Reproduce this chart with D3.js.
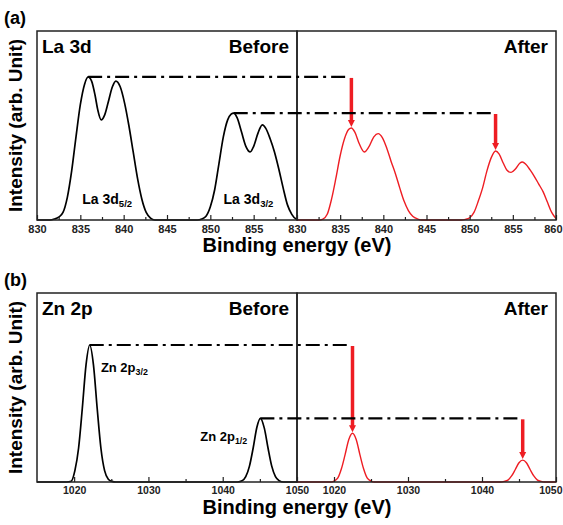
<!DOCTYPE html>
<html>
<head>
<meta charset="utf-8">
<script src="https://cdn.jsdelivr.net/npm/d3@7"></script>
<style>
  html, body { margin: 0; padding: 0; background: #fff; }
  svg { display: block; font-family: "Liberation Sans", Arial, sans-serif; font-weight: bold; }
</style>
</head>
<body>
<svg id="chart" width="563" height="525"></svg>
<script>
// ---------- DATA ----------
// Panel (a) La 3d : [binding energy (eV), intensity (arb.)]
const laBefore = [
  [830,0],[831.5,0],[832,0.5],[832.5,1.5],[833,4],[833.5,12],[834,26],[834.5,44],[835,61],[835.5,72],[835.9,75.7],
  [836.3,73.5],[836.7,66],[837.0,58.5],[837.4,53],[837.8,55.5],[838.2,62],[838.7,70.5],[839.1,73.5],[839.6,70.5],
  [840.1,62],[840.6,50],[841.1,36],[841.6,22],[842.1,11],[842.6,4],[843.1,1],[843.6,0],
  [848.5,0],[849,0.5],[849.5,2],[850,7],[850.5,16],[851,30],[851.5,44],[852,53],[852.4,56],[852.7,56.6],[853.1,54],
  [853.6,46.5],[854.1,39],[854.6,36],[855.0,39],[855.5,46],[856,50.3],[856.4,48.5],[856.9,43],[857.4,36],[857.9,27],
  [858.4,17],[858.9,8],[859.4,3],[859.9,0.5],[860,0.3]
];
const laAfter = [
  [830,0],[832.5,0],[833,0.5],[833.5,3],[834,11],[834.5,22],[835,34],[835.5,43],[836,48],[836.3,48.7],[836.7,46.5],
  [837.2,40.5],[837.8,36],[838.3,38.5],[838.9,44],[839.4,45.7],[839.9,43.5],[840.4,38],[840.9,31],[841.4,24.5],
  [841.9,17],[842.4,10],[842.9,5],[843.4,2],[844,0.5],[844.5,0],
  [849,0],[849.5,0.3],[850,1.2],[850.5,4],[851,10],[851.5,17],[852,26],[852.5,33],[853,36.5],[853.4,35],[853.9,30],
  [854.3,26.5],[854.8,25.2],[855.3,27],[855.8,30],[856.1,30.7],[856.5,29.5],[857,26.5],[857.5,23],[858,19],[858.5,15],
  [859,9.5],[859.5,4],[860,0.8]
];
// Panel (b) Zn 2p
const znBefore = [
  [1015,0],[1019,0],[1019.6,0.4],[1020.1,6],[1020.6,18],[1021.1,39],[1021.6,62],[1022.1,72.5],[1022.6,62],[1023.1,39],
  [1023.6,18],[1024.1,6],[1024.6,1.5],[1025.1,0.3],[1025.6,0],
  [1042,0],[1042.6,0.6],[1043.1,2.8],[1043.6,8.4],[1044.1,18],[1044.6,29],[1045.07,33.7],[1045.6,28.5],[1046.1,18],
  [1046.6,8.4],[1047.1,2.8],[1047.6,0.7],[1048.2,0],[1050,0]
];
const znAfter = [
  [1015,0],[1019.5,0],[1020,0.5],[1020.5,2],[1021,7],[1021.5,14.5],[1022,22.5],[1022.5,25.8],[1023,22.5],[1023.5,14.5],
  [1024,7],[1024.5,2],[1025,0.5],[1025.5,0],
  [1042.5,0],[1043,0.3],[1043.5,1],[1044,3.2],[1044.5,6.6],[1045,10.2],[1045.5,11.6],[1046,10.2],[1046.5,6.6],
  [1047,3.2],[1047.5,1],[1048,0.3],[1048.5,0],[1050,0]
];
// Peak positions used for the guide lines/arrows: [E before, I before, E after, I after]
const laShifts = [[835.9, 75.7, 836.3, 48.7], [852.7, 56.6, 853.0, 36.5]];
const znShifts = [[1022.1, 72.5, 1022.5, 25.8], [1045.07, 33.7, 1045.5, 11.6]];
// Axis ticks
const laDomain = [830, 860];
const znDomain = [1015, 1050];
const laMajorLeft = [830, 835, 840, 845, 850, 855];
const laMajorRight = [830, 835, 840, 845, 850, 855, 860];
const laMinor = [832.5, 837.5, 842.5, 847.5, 852.5, 857.5];
const znMajorLeft = [1020, 1030, 1040, 1050];
const znMajorRight = [1020, 1030, 1040, 1050];
const znMinor = [1025, 1035, 1045];

// ---------- LAYOUT ----------
const svg = d3.select("#chart");
const W = 563;
const X0 = 37, XM = 297, X1 = 556;
const RED = "#ee1d23";

function panel(cfg) {
  const xL = d3.scaleLinear().domain(cfg.domain).range([X0, XM]);
  const xR = d3.scaleLinear().domain(cfg.domain).range([XM, X1]);
  const y = d3.scaleLinear().domain([0, 100]).range([cfg.bottom, cfg.top]);
  const g = svg.append("g");

  const line = (xs) => d3.line().x(d => xs(d[0])).y(d => y(d[1])).curve(d3.curveMonotoneX);

  // curves
  g.append("path").datum(cfg.before).attr("d", line(xL))
    .attr("fill", "none").attr("stroke", "#000").attr("stroke-width", 1.7);
  g.append("path").datum(cfg.after).attr("d", line(xR))
    .attr("fill", "none").attr("stroke", RED).attr("stroke-width", 1.4);

  // axes (ticks inward)
  function axes(xs, major) {
    const a = g.append("g").attr("transform", `translate(0,${cfg.bottom})`)
      .call(d3.axisBottom(xs).tickValues(major).tickSize(-5).tickPadding(5).tickFormat(d3.format("d")));
    a.select(".domain").remove();
    a.selectAll("line").attr("stroke", "#222").attr("stroke-width", 1.2);
    a.selectAll("text").attr("font-size", cfg.tickFont).attr("font-weight", "bold")
      .attr("font-family", "Liberation Sans, Arial, sans-serif").attr("fill", "#222");
    // keep the last label inside the picture
    a.selectAll(".tick").each(function (d) {
      const txt = d3.select(this).select("text");
      const w = txt.node().getComputedTextLength();
      const cx = xs(d);
      if (cx + w / 2 > W - 1) txt.attr("text-anchor", "end").attr("x", W - 1 - cx);
    });
    const m = g.append("g").attr("transform", `translate(0,${cfg.bottom})`)
      .call(d3.axisBottom(xs).tickValues(cfg.minor).tickSize(-3).tickFormat(""));
    m.select(".domain").remove();
    m.selectAll("line").attr("stroke", "#222").attr("stroke-width", 1.2);
  }
  axes(xL, cfg.majorLeft);
  axes(xR, cfg.majorRight);

  // frames
  g.append("rect").attr("x", X0).attr("y", cfg.top).attr("width", XM - X0).attr("height", cfg.bottom - cfg.top)
    .attr("fill", "none").attr("stroke", "#222").attr("stroke-width", 1.5);
  g.append("rect").attr("x", XM).attr("y", cfg.top).attr("width", X1 - XM).attr("height", cfg.bottom - cfg.top)
    .attr("fill", "none").attr("stroke", "#222").attr("stroke-width", 1.5);

  // dash-dot guides and arrows
  cfg.shifts.forEach(s => {
    g.append("line").attr("x1", xL(s[0])).attr("x2", xR(s[2]) - 2)
      .attr("y1", y(s[1])).attr("y2", y(s[1]))
      .attr("stroke", "#000").attr("stroke-width", 2.2).attr("stroke-dasharray", "14,5,3,5");
    const ax = xR(s[2]), ay0 = y(s[1]) + 1, ay1 = y(s[3]) - 1;
    g.append("line").attr("x1", ax).attr("x2", ax).attr("y1", ay0).attr("y2", ay1 - 5)
      .attr("stroke", RED).attr("stroke-width", 3.5);
    g.append("path").attr("d", `M${ax - 3.5},${ay1 - 7} L${ax + 3.5},${ay1 - 7} L${ax},${ay1} Z`)
      .attr("fill", RED);
  });

  // texts
  const t = (x, yy, str, size, anchor) => g.append("text").attr("x", x).attr("y", yy)
    .attr("font-size", size).attr("text-anchor", anchor || "start").text(str);
  t(4, cfg.top - 7, cfg.letter, 18);
  t(42, cfg.top + 22, cfg.title, 19);
  t(289, cfg.top + 22, "Before", 19, "end");
  t(548, cfg.top + 22, "After", 19, "end");
  g.append("text").attr("transform", `translate(22,${(cfg.top + cfg.bottom) / 2}) rotate(-90)`)
    .attr("text-anchor", "middle").attr("font-size", 19).text("Intensity (arb. Unit)");
  t(297, cfg.bottom + 32, "Binding energy (eV)", 20, "middle");

  cfg.peakLabels.forEach(p => {
    const el = g.append("text").attr("x", xL(p.e)).attr("y", y(p.i)).attr("font-size", p.size)
      .attr("text-anchor", p.anchor);
    el.append("tspan").text(p.main);
    el.append("tspan").attr("dy", 3).attr("font-size", p.size * 0.68).text(p.sub);
  });
}

panel({
  domain: laDomain, top: 31, bottom: 220, before: laBefore, after: laAfter, shifts: laShifts,
  majorLeft: laMajorLeft, majorRight: laMajorRight, minor: laMinor, tickFont: 11,
  letter: "(a)", title: "La 3d",
  peakLabels: [
    { e: 838.1, i: 8.5, main: "La 3d", sub: "5/2", size: 14, anchor: "middle" },
    { e: 854.4, i: 8.5, main: "La 3d", sub: "3/2", size: 14, anchor: "middle" }
  ]
});
panel({
  domain: znDomain, top: 293, bottom: 482, before: znBefore, after: znAfter, shifts: znShifts,
  majorLeft: znMajorLeft, majorRight: znMajorRight, minor: znMinor, tickFont: 10.5,
  letter: "(b)", title: "Zn 2p",
  peakLabels: [
    { e: 1023.6, i: 58, main: "Zn 2p", sub: "3/2", size: 13, anchor: "start" },
    { e: 1043.3, i: 21.5, main: "Zn 2p", sub: "1/2", size: 13, anchor: "end" }
  ]
});
</script>
</body>
</html>
